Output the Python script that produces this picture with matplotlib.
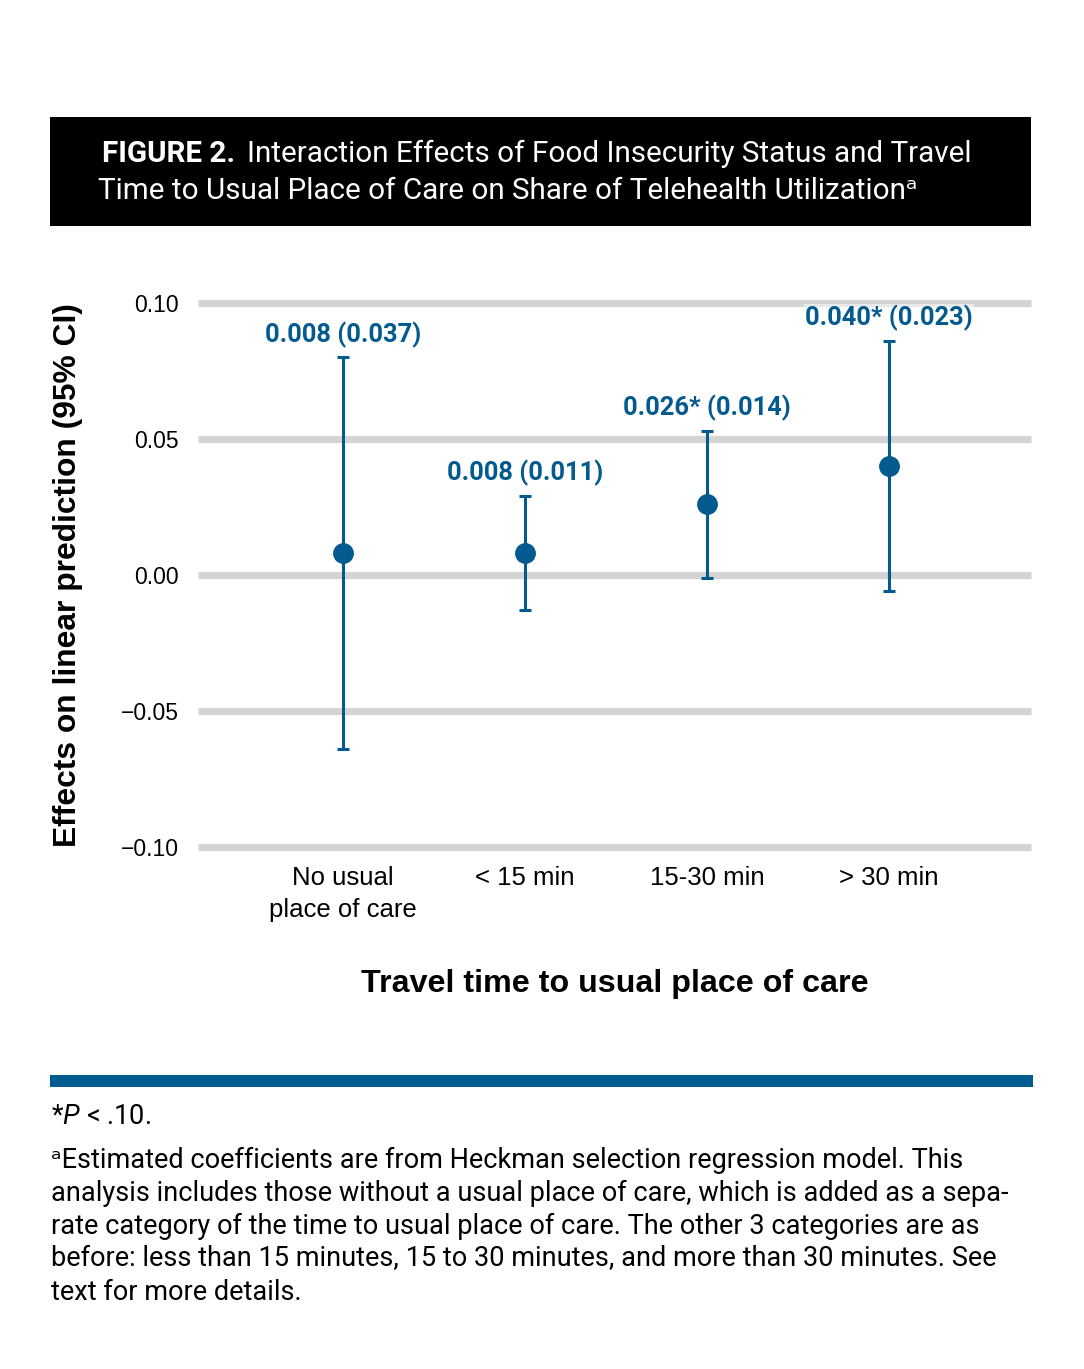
import matplotlib
matplotlib.use("Agg")
import matplotlib.pyplot as plt
from matplotlib.patches import Rectangle

W, H = 1084, 1369
COND = ['Roboto', 'DejaVu Sans']
SANS = ['Liberation Sans', 'DejaVu Sans']
plt.rcParams['font.family'] = SANS
plt.rcParams['mathtext.fontset'] = 'custom'
plt.rcParams['mathtext.it'] = 'Roboto:italic'
plt.rcParams['mathtext.rm'] = 'Roboto'

# ---- data ----
categories = ["No usual\nplace of care", "< 15 min", "15-30 min", "> 30 min"]
estimates = [0.008, 0.008, 0.026, 0.040]
ci_low = [-0.064, -0.013, -0.001, -0.006]
ci_high = [0.080, 0.029, 0.053, 0.086]
point_labels = ["0.008 (0.037)", "0.008 (0.011)", "0.026* (0.014)", "0.040* (0.023)"]
yticks = [-0.10, -0.05, 0.00, 0.05, 0.10]
ytick_labels = ["\u22120.10", "\u22120.05", "0.00", "0.05", "0.10"]

BLUE = "#035a8f"
GRID = "#d4d4d4"

fig = plt.figure(figsize=(W / 100, H / 100), dpi=100)
fx = lambda x: x / W
fy = lambda y: 1 - y / H

# title box
fig.patches.append(Rectangle((fx(50), fy(226)), fx(1031) - fx(50), fy(117) - fy(226),
                             transform=fig.transFigure, facecolor="black", edgecolor="none"))
t1 = fig.text(fx(102), fy(154), "FIGURE 2.", color="white", fontsize=21.3, fontweight="bold",
              family=COND, va="center", ha="left")
renderer = fig.canvas.get_renderer()
bb = t1.get_window_extent(renderer=renderer)
fig.text(bb.x1 / W + fx(12), fy(154), "Interaction Effects of Food Insecurity Status and Travel",
         color="white", fontsize=21.3, family=COND, va="center", ha="left")
fig.text(fx(98), fy(191), "Time to Usual Place of Care on Share of Telehealth Utilization\u1d43",
         color="white", fontsize=21.3, family=COND, va="center", ha="left")

# axes
ax = fig.add_axes([fx(198), fy(847), fx(1031) - fx(198), fy(303) - fy(847)])
ax.set_xlim(-0.797, 3.78)
ax.set_ylim(-0.10, 0.10)
for s in ax.spines.values():
    s.set_visible(False)
for t in yticks:
    ax.axhline(t, color=GRID, lw=5.2, zorder=0, clip_on=False, solid_capstyle="butt")
ax.set_yticks(yticks)
ax.set_yticklabels(ytick_labels, fontsize=16.5, family=SANS)
ax.tick_params(axis="y", length=0, pad=14)
ax.set_xticks(range(len(categories)))
ax.set_xticklabels(categories, fontsize=18.5, family=SANS, linespacing=1.4)
ax.tick_params(axis="x", length=0, pad=14)

x = list(range(len(categories)))
yerr = [[e - lo for e, lo in zip(estimates, ci_low)], [hi - e for e, hi in zip(estimates, ci_high)]]
ax.errorbar(x, estimates, yerr=yerr, fmt="o", color=BLUE, ecolor=BLUE, elinewidth=2.2,
            capsize=4, capthick=2.2, markersize=14, zorder=3, clip_on=False)
for xi, hi, lab in zip(x, ci_high, point_labels):
    ax.annotate(lab, (xi, hi), xytext=(0, 16.5), textcoords="offset points", ha="center",
                va="center", color=BLUE, fontsize=18.4, fontweight="bold", family=COND,
                bbox=dict(facecolor="white", alpha=0.5, edgecolor="none", pad=1), zorder=4)

fig.text(fx(68), fy(575), "Effects on linear prediction (95% CI)", rotation=90, fontsize=22.9,
         fontweight="bold", family=SANS, ha="center", va="center")
fig.text(fx(615), fy(984), "Travel time to usual place of care", fontsize=23.2,
         fontweight="bold", family=SANS, ha="center", va="center")

# footer bar
fig.patches.append(Rectangle((fx(50), fy(1087)), fx(1033) - fx(50), fy(1075) - fy(1087),
                             transform=fig.transFigure, facecolor="#005b91", edgecolor="none"))
fig.text(fx(51), fy(1117), r"*$\mathit{P}$ < .10.", fontsize=19.5, family=COND, ha="left", va="center")
foot = ["\u1d43Estimated coefficients are from Heckman selection regression model. This",
        "analysis includes those without a usual place of care, which is added as a sepa-",
        "rate category of the time to usual place of care. The other 3 categories are as",
        "before: less than 15 minutes, 15 to 30 minutes, and more than 30 minutes. See",
        "text for more details."]
for i, line in enumerate(foot):
    fig.text(fx(51), fy(1160 + 33 * i), line, fontsize=19.5, family=COND, ha="left", va="center")

fig.savefig("out.png", dpi=100)
